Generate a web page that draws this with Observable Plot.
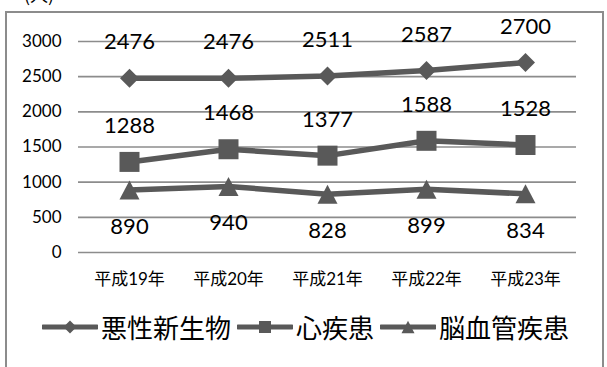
<!DOCTYPE html>
<html lang="ja">
<head>
<meta charset="utf-8">
<script src="https://cdn.jsdelivr.net/npm/d3@7"></script>
<script src="https://cdn.jsdelivr.net/npm/@observablehq/plot@0.6"></script>
<style>
  html, body { margin: 0; padding: 0; background: #fff; }
  #wrap { position: relative; width: 607px; height: 367px; overflow: hidden; background: #fff; }
  #frame { position: absolute; left: 5px; top: 11px; width: 595px; height: 420px; border: 2px solid #8c8c8c; }
  #unit { position: absolute; left: 24px; top: -15px; font: 18px/1 "Noto Sans CJK JP", sans-serif; color: #000; }
  #chart { position: absolute; left: 0; top: 0; }
  #legend { position: absolute; left: 42px; top: 309px; height: 36px; display: flex; align-items: center;
            font: 26px/1 "Noto Sans CJK JP", sans-serif; color: #000; white-space: nowrap; }
  #legend .item { display: flex; align-items: center; margin-right: 6px; }
  #legend svg { display: block; margin-right: 3px; }
</style>
</head>
<body>
<div id="wrap">
  <div id="frame"></div>
  <div id="unit"></div>
  <div id="chart"></div>
  <div id="legend"></div>
</div>
<script>
// 死因別の死亡者数（人）
const years = ["平成19年", "平成20年", "平成21年", "平成22年", "平成23年"];
const seriesNames = ["悪性新生物", "心疾患", "脳血管疾患"];
const malignant = [2476, 2476, 2511, 2587, 2700];
const heart = [1288, 1468, 1377, 1588, 1528];
const cerebro = [890, 940, 828, 899, 834];
const yTicks = [0, 500, 1000, 1500, 2000, 2500, 3000];
const unitLabel = "(人)";

const seriesValues = [malignant, heart, cerebro];
const rows = seriesNames.flatMap((name, i) =>
  years.map((year, j) => ({series: name, year, value: seriesValues[i][j]}))
);

// Marker shapes centred on their bounding box; r is the half-width
const radius = (size) => Math.sqrt(size / Math.PI);
const diamond = {draw(ctx, size) { const r = radius(size);
  ctx.moveTo(0, -r); ctx.lineTo(r, 0); ctx.lineTo(0, r); ctx.lineTo(-r, 0); ctx.closePath(); }};
const square = {draw(ctx, size) { const r = radius(size);
  ctx.moveTo(-r, -r); ctx.lineTo(r, -r); ctx.lineTo(r, r); ctx.lineTo(-r, r); ctx.closePath(); }};
const triangle = {draw(ctx, size) { const r = radius(size), h = r * 0.95;
  ctx.moveTo(0, -h); ctx.lineTo(r, h); ctx.lineTo(-r, h); ctx.closePath(); }};
const symbols = [diamond, square, triangle];
const markerR = [9.5, 10, 10];
const ink = "#595959";

const chart = Plot.plot({
  width: 607,
  height: 295,
  marginLeft: 78,
  marginRight: 31,
  marginTop: 41,
  marginBottom: 43,
  style: {fontFamily: "Lato, 'Noto Sans CJK JP', sans-serif", fontSize: "17px", color: "#000", background: "transparent", overflow: "visible"},
  x: {type: "point", domain: years, padding: 0.5, label: null, tickSize: 0, tickPadding: 20},
  y: {domain: [0, 3000], ticks: yTicks, tickFormat: d => String(d), label: null, tickSize: 0, tickPadding: 17},
  marks: [
    Plot.ruleY(yTicks, {stroke: "#8c8c8c", strokeWidth: 1.6}),
    Plot.line(rows, {x: "year", y: "value", z: "series", stroke: ink, strokeWidth: 5.5}),
    ...seriesNames.map((name, i) =>
      Plot.dot(rows.filter(d => d.series === name), {
        x: "year", y: "value", symbol: symbols[i], r: markerR[i], fill: ink, stroke: null
      })
    ),
    Plot.text(rows.filter(d => d.series !== "脳血管疾患"), {
      x: "year", y: "value", text: d => String(d.value), dy: -36,
      fontSize: 22, fill: "#000", fontFamily: "Lato, sans-serif"
    }),
    Plot.text(rows.filter(d => d.series === "脳血管疾患"), {
      x: "year", y: "value", text: d => String(d.value), dy: 37,
      fontSize: 22, fill: "#000", fontFamily: "Lato, sans-serif"
    })
  ]
});
document.getElementById("chart").appendChild(chart);
document.getElementById("unit").textContent = unitLabel;

// Legend: a line segment with the series marker, then the series name
const legend = document.getElementById("legend");
const legendMarkerR = [6.5, 6, 6.5];
seriesNames.forEach((name, i) => {
  const item = document.createElement("div");
  item.className = "item";
  const w = 56, h = 20;
  const svg = d3.create("svg").attr("width", w).attr("height", h);
  svg.append("line").attr("x1", 1).attr("x2", w - 1).attr("y1", h / 2).attr("y2", h / 2)
    .attr("stroke", ink).attr("stroke-width", 5).attr("stroke-linecap", "round");
  svg.append("path")
    .attr("transform", `translate(${w / 2},${h / 2})`)
    .attr("d", d3.symbol(symbols[i], Math.PI * legendMarkerR[i] ** 2)())
    .attr("fill", ink);
  item.appendChild(svg.node());
  const label = document.createElement("span");
  label.textContent = name;
  item.appendChild(label);
  legend.appendChild(item);
});
</script>
</body>
</html>
